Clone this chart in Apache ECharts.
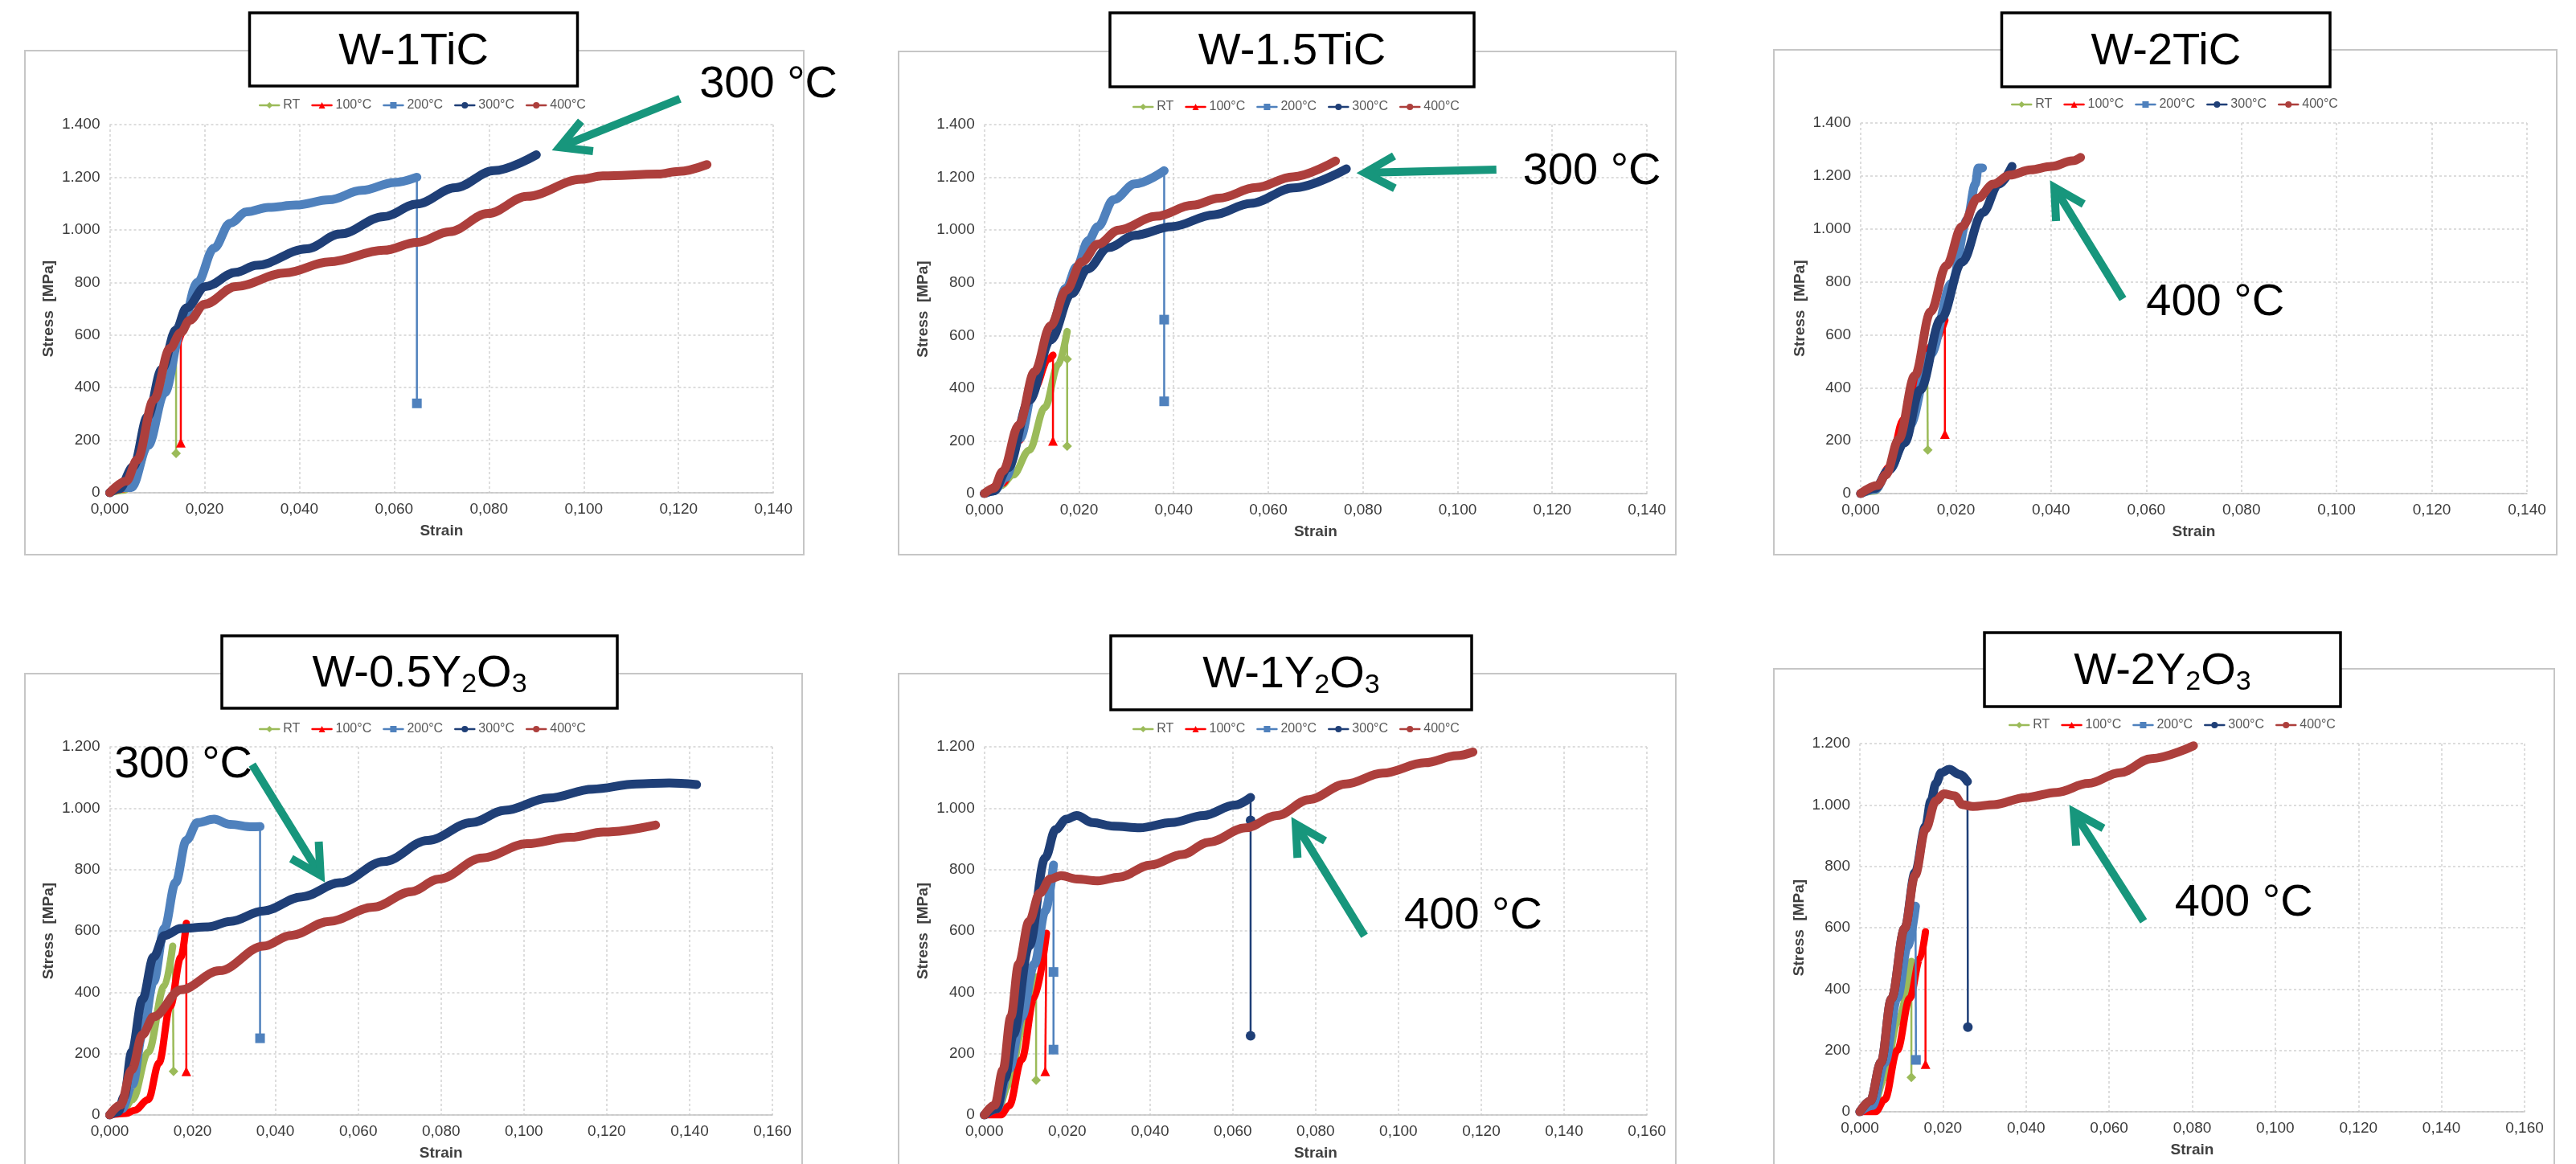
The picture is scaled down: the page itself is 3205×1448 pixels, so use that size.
<!DOCTYPE html>
<html>
<head>
<meta charset="utf-8">
<script src="https://cdn.jsdelivr.net/npm/echarts@6/dist/echarts.min.js"></script>
<style>
html, body { margin: 0; padding: 0; background: #fff; }
#main { width: 3205px; height: 1448px; }
</style>
</head>
<body>
<div id="main"></div>
<script>
// series names, one per test temperature
const temps = ['RT', '100°C', '200°C', '300°C', '400°C'];

// W-1TiC  [strain, stress MPa]
const p1_RT = [[0,0],[0.003,10],[0.006,90],[0.009,280],[0.012,470],[0.014,580]];
const p1_RT_fail = [[0.014,150]];
const p1_100 = [[0,0],[0.003,15],[0.006,110],[0.009,310],[0.012,500],[0.015,600]];
const p1_100_fail = [[0.015,190]];
const p1_200 = [[0,0],[0.002,20],[0.0046,20],[0.0081,180],[0.0116,380],[0.015,610],[0.0185,800],[0.022,930],[0.0254,1025],[0.0289,1068],[0.0335,1085],[0.0393,1094],[0.0463,1114],[0.0532,1150],[0.0601,1180],[0.0648,1200]];
const p1_200_fail = [[0.0648,340]];
const p1_300 = [[0,0],[0.002,15],[0.005,100],[0.008,290],[0.011,470],[0.014,620],[0.0162,703],[0.0202,784],[0.0266,838],[0.031,865],[0.0416,928],[0.0486,984],[0.0578,1050],[0.0648,1098],[0.0729,1160],[0.081,1225],[0.09,1285]];
const p1_300_fail = [];
const p1_400 = [[0,0],[0.0035,44],[0.0058,125],[0.0093,354],[0.0127,549],[0.015,609],[0.0168,655],[0.02,717],[0.0266,784],[0.037,836],[0.0463,878],[0.0578,922],[0.0648,952],[0.0717,993],[0.0798,1062],[0.088,1127],[0.0995,1192],[0.104,1205],[0.1157,1212],[0.12,1222],[0.126,1248]];
const p1_400_fail = [];

// W-1.5TiC
const p2_RT = [[0,0],[0.0035,30],[0.0061,71],[0.0095,165],[0.0128,327],[0.0156,489],[0.0175,615]];
const p2_RT_fail = [[0.0175,510],[0.0175,180]];
const p2_100 = [[0,0],[0.004,40],[0.0073,200],[0.0106,400],[0.0135,510],[0.0145,525]];
const p2_100_fail = [[0.0145,200]];
const p2_200 = [[0,0],[0.002,10],[0.0045,60],[0.0075,210],[0.0108,430],[0.014,630],[0.0173,780],[0.0195,860],[0.022,960],[0.024,1013],[0.0273,1115],[0.0318,1175],[0.038,1225]];
const p2_200_fail = [[0.038,660],[0.038,350]];
const p2_300 = [[0,0],[0.002,10],[0.005,98],[0.0095,354],[0.014,583],[0.0184,758],[0.0218,852],[0.0262,933],[0.0318,980],[0.0396,1013],[0.0485,1058],[0.0563,1101],[0.0653,1160],[0.0765,1232]];
const p2_300_fail = [];
const p2_400 = [[0,0],[0.002,20],[0.0039,85],[0.0073,260],[0.0106,462],[0.014,637],[0.0173,771],[0.0206,879],[0.024,946],[0.0284,1000],[0.0363,1052],[0.044,1094],[0.0496,1121],[0.0574,1161],[0.0652,1202],[0.0742,1262]];
const p2_400_fail = [];

// W-2TiC
const p3_RT = [[0,0],[0.003,10],[0.006,90],[0.009,250],[0.012,400],[0.014,470]];
const p3_RT_fail = [[0.0141,165]];
const p3_100 = [[0,0],[0.003,15],[0.006,100],[0.009,280],[0.012,430],[0.015,560],[0.0177,655]];
const p3_100_fail = [[0.0177,225]];
const p3_200 = [[0,0],[0.003,15],[0.006,90],[0.0103,258],[0.0147,526],[0.0191,794],[0.0224,1035],[0.0241,1169],[0.0247,1230],[0.0256,1230]];
const p3_200_fail = [];
const p3_300 = [[0,0],[0.003,20],[0.006,90],[0.0092,192],[0.0125,392],[0.0169,660],[0.0213,875],[0.0257,1062],[0.029,1169],[0.0318,1236]];
const p3_300_fail = [];
const p3_400 = [[0,0],[0.0036,31],[0.0053,71],[0.008,205],[0.0114,446],[0.0147,687],[0.018,861],[0.0213,1009],[0.0246,1116],[0.0279,1169],[0.0313,1203],[0.0357,1223],[0.0401,1236],[0.0445,1257],[0.0462,1270]];
const p3_400_fail = [];

// W-0.5Y2O3
const p4_RT = [[0,0],[0.003,10],[0.0055,50],[0.0093,205],[0.0132,420],[0.0152,550]];
const p4_RT_fail = [[0.0154,142]];
const p4_100 = [[0,0],[0.004,5],[0.006,15],[0.0093,50],[0.0119,170],[0.0146,354],[0.0172,515],[0.0185,625]];
const p4_100_fail = [[0.0185,142]];
const p4_200 = [[0,0],[0.003,20],[0.0055,100],[0.0079,262],[0.0106,435],[0.0132,608],[0.0159,757],[0.0185,895],[0.0212,953],[0.0252,964],[0.0291,947],[0.0344,939],[0.0363,940]];
const p4_200_fail = [[0.0363,250]];
const p4_300 = [[0,0],[0.002,10],[0.0035,60],[0.0053,205],[0.0079,377],[0.0106,515],[0.0132,585],[0.0172,608],[0.0238,613],[0.0291,631],[0.0371,665],[0.0464,711],[0.0556,757],[0.0662,826],[0.0768,895],[0.0874,953],[0.0954,993],[0.106,1033],[0.1166,1062],[0.1272,1079],[0.1351,1082],[0.1417,1077]];
const p4_300_fail = [];
const p4_400 = [[0,0],[0.0026,32],[0.0053,147],[0.0079,262],[0.0106,320],[0.0172,408],[0.0265,470],[0.0371,550],[0.0437,585],[0.053,631],[0.0636,677],[0.0728,728],[0.0795,769],[0.09,838],[0.1007,884],[0.1113,905],[0.1192,922],[0.1318,945]];
const p4_400_fail = [];

// W-1Y2O3
const p5_RT = [[0,0],[0.003,10],[0.006,100],[0.009,270],[0.0125,450]];
const p5_RT_fail = [[0.0125,113]];
const p5_100 = [[0,0],[0.004,0],[0.006,30],[0.009,180],[0.012,380],[0.015,592]];
const p5_100_fail = [[0.0147,142]];
const p5_200 = [[0,0],[0.003,20],[0.006,150],[0.009,320],[0.0121,492],[0.0147,665],[0.0167,815]];
const p5_200_fail = [[0.0167,466],[0.0167,213]];
const p5_300 = [[0,0],[0.003,20],[0.005,120],[0.007,262],[0.0108,550],[0.0147,838],[0.0172,930],[0.0198,964],[0.0223,976],[0.0261,953],[0.0312,941],[0.0376,936],[0.0452,953],[0.0529,976],[0.0605,1010],[0.0643,1035]];
const p5_300_fail = [[0.0643,960],[0.0643,258]];
const p5_400 = [[0,0],[0.0025,32],[0.0045,147],[0.0064,320],[0.0083,492],[0.0108,631],[0.0134,723],[0.0159,769],[0.0185,780],[0.0223,769],[0.0274,763],[0.0325,775],[0.0402,815],[0.0478,849],[0.0542,889],[0.0631,936],[0.0707,976],[0.0784,1028],[0.0873,1079],[0.0962,1114],[0.1064,1148],[0.1141,1171],[0.118,1183]];
const p5_400_fail = [];

// W-2Y2O3
const p6_RT = [[0,0],[0.003,10],[0.006,110],[0.009,290],[0.0124,490]];
const p6_RT_fail = [[0.0124,112]];
const p6_100 = [[0,0],[0.0038,0],[0.006,40],[0.009,200],[0.012,370],[0.0145,500],[0.0158,587]];
const p6_100_fail = [[0.0158,155]];
const p6_200 = [[0,0],[0.003,20],[0.006,160],[0.009,370],[0.0115,540],[0.0134,670]];
const p6_200_fail = [[0.0135,169]];
const p6_300 = [[0,0],[0.0025,35],[0.0051,161],[0.0076,368],[0.0108,598],[0.0133,780],[0.0158,930],[0.0171,1013],[0.0183,1070],[0.0196,1105],[0.0215,1116],[0.0241,1099],[0.0259,1076]];
const p6_300_fail = [[0.026,276]];
const p6_400 = [[0,0],[0.0025,35],[0.0051,161],[0.0076,368],[0.0108,598],[0.0133,771],[0.0158,921],[0.0183,1013],[0.0202,1036],[0.0228,1030],[0.0247,1001],[0.0272,995],[0.0323,1001],[0.0398,1024],[0.0474,1041],[0.055,1070],[0.0626,1105],[0.0702,1151],[0.0803,1193]];
const p6_400_fail = [];

// axis ranges
const strainMax = [0.14, 0.14, 0.14, 0.16, 0.16, 0.16];
const stressMax = [1400, 1400, 1400, 1200, 1200, 1200];
const strainStep = 0.02;
const stressStep = 200;

// callout labels: text, text anchor, arrow tail, arrow tip (strain, stress)
const notes = [
  { text: '300 °C', at: [0.1244, 1550], tail: [0.1203, 1498], tip: [0.0949, 1314] },
  { text: '300 °C', at: [0.1138, 1222], tail: [0.1082, 1229], tip: [0.0804, 1217] },
  { text: '400 °C', at: [0.0600, 721],  tail: [0.0551, 735],  tip: [0.0407, 1157] },
  { text: '300 °C', at: [0.0011, 1142], tail: [0.0344, 1142], tip: [0.0509, 781] },
  { text: '400 °C', at: [0.1014, 648],  tail: [0.0918, 584],  tip: [0.0752, 948] },
  { text: '400 °C', at: [0.0758, 681],  tail: [0.0683, 621],  tip: [0.0515, 977] }
];

const panelTitles = [
  '{a|W-1TiC}', '{a|W-1.5TiC}', '{a|W-2TiC}',
  '{a|W-0.5Y}{s|2}{a|O}{s|3}', '{a|W-1Y}{s|2}{a|O}{s|3}', '{a|W-2Y}{s|2}{a|O}{s|3}'
];

const curves = [
  [p1_RT, p1_100, p1_200, p1_300, p1_400],
  [p2_RT, p2_100, p2_200, p2_300, p2_400],
  [p3_RT, p3_100, p3_200, p3_300, p3_400],
  [p4_RT, p4_100, p4_200, p4_300, p4_400],
  [p5_RT, p5_100, p5_200, p5_300, p5_400],
  [p6_RT, p6_100, p6_200, p6_300, p6_400]
];
const fails = [
  [p1_RT_fail, p1_100_fail, p1_200_fail, p1_300_fail, p1_400_fail],
  [p2_RT_fail, p2_100_fail, p2_200_fail, p2_300_fail, p2_400_fail],
  [p3_RT_fail, p3_100_fail, p3_200_fail, p3_300_fail, p3_400_fail],
  [p4_RT_fail, p4_100_fail, p4_200_fail, p4_300_fail, p4_400_fail],
  [p5_RT_fail, p5_100_fail, p5_200_fail, p5_300_fail, p5_400_fail],
  [p6_RT_fail, p6_100_fail, p6_200_fail, p6_300_fail, p6_400_fail]
];

// layout (pixels)
const layout = [
  { grid: [136.5, 155, 825.7, 458], frame: [31, 63, 969, 627],  box: [310.5, 16, 408, 91],  legend: [317, 118] },
  { grid: [1224.7, 155, 824.3, 459], frame: [1118, 64, 967, 626], box: [1381, 16, 453, 92], legend: [1404, 120] },
  { grid: [2315, 153, 829, 461],    frame: [2207, 62, 974, 628], box: [2490.5, 16, 408.5, 92], legend: [2497, 117] },
  { grid: [136.5, 929, 824.5, 458], frame: [31, 838, 967, 640],  box: [276, 791, 492, 90],  legend: [317, 894] },
  { grid: [1224.7, 929, 824.3, 458], frame: [1118, 838, 967, 640], box: [1382, 791, 449, 92], legend: [1404, 894] },
  { grid: [2314, 925, 827, 458],    frame: [2207, 832, 971, 646], box: [2469, 787, 443, 92], legend: [2494, 889] }
];

const colors = ['#9bbb59', '#ff0000', '#4f81bd', '#1f3f77', '#ad3f3c'];
const symbols = ['diamond', 'triangle', 'rect', 'circle', 'circle'];
const widths = [9, 9, 11, 11, 11];
const FONT = '"Liberation Sans", Arial, sans-serif';
const TEAL = '#17967c';

const fmtStress = v => v >= 1000 ? Math.floor(v / 1000) + '.' + String(v % 1000).padStart(3, '0') : String(v);
const fmtStrain = v => v.toFixed(3).replace('.', ',');

const grids = [], xAxes = [], yAxes = [], series = [], legends = [];

layout.forEach((L, i) => {
    grids.push({ left: L.grid[0], top: L.grid[1], width: L.grid[2], height: L.grid[3] });
    xAxes.push({
        type: 'value', gridIndex: i, min: 0, max: strainMax[i], interval: strainStep,
        name: 'Strain', nameLocation: 'middle', nameGap: 38,
        nameTextStyle: { fontFamily: FONT, fontSize: 19, fontWeight: 'bold', color: '#404040' },
        axisLine: { show: true, lineStyle: { color: '#c4c4c4', width: 1.5 } },
        axisTick: { show: false },
        axisLabel: { formatter: fmtStrain, fontFamily: FONT, fontSize: 19, color: '#3a3a3a', margin: 11 },
        splitLine: { show: true, lineStyle: { color: '#d2d2d2', type: [3, 3], width: 1.5 } }
    });
    yAxes.push({
        type: 'value', gridIndex: i, min: 0, max: stressMax[i], interval: stressStep,
        name: 'Stress  [MPa]', nameLocation: 'middle', nameGap: 66,
        nameTextStyle: { fontFamily: FONT, fontSize: 19, fontWeight: 'bold', color: '#404040' },
        axisLine: { show: false },
        axisTick: { show: false },
        axisLabel: { formatter: fmtStress, fontFamily: FONT, fontSize: 19, color: '#3a3a3a', margin: 12 },
        splitLine: { show: true, lineStyle: { color: '#d2d2d2', type: [3, 3], width: 1.5 } }
    });
    legends.push({
        left: L.legend[0], top: L.legend[1], data: temps, selectedMode: false,
        itemWidth: 24, itemHeight: 10, itemGap: 14,
        textStyle: { fontFamily: FONT, fontSize: 16, color: '#595959' },
        lineStyle: { width: 2.5 }
    });

    curves[i].forEach((c, k) => {
        series.push({
            type: 'line', name: temps[k], xAxisIndex: i, yAxisIndex: i,
            data: c, symbol: symbols[k], showSymbol: false,
            smooth: 0.35, smoothMonotone: 'x', z: 2 + k, silent: true,
            lineStyle: { color: colors[k], width: widths[k], cap: 'round', join: 'round' },
            itemStyle: { color: colors[k] }
        });
        const f = fails[i][k];
        if (f.length) {
            series.push({
                type: 'line', name: temps[k], xAxisIndex: i, yAxisIndex: i,
                data: [{ value: c[c.length - 1], symbol: 'none' }].concat(f),
                symbol: symbols[k], symbolSize: 12, showSymbol: true, z: 2 + k, silent: true,
                lineStyle: { color: colors[k], width: 2.5 },
                itemStyle: { color: colors[k] }
            });
        }
    });
});

const chart = echarts.init(document.getElementById('main'), null, { renderer: 'canvas' });
chart.setOption({
    animation: false,
    backgroundColor: '#ffffff',
    grid: grids, xAxis: xAxes, yAxis: yAxes, legend: legends, series: series
});

const els = [];
layout.forEach((L, i) => {
    els.push({ type: 'rect', z: -1, shape: { x: L.frame[0], y: L.frame[1], width: L.frame[2], height: L.frame[3] },
        style: { fill: '#ffffff', stroke: '#c6c6c6', lineWidth: 2 } });
    els.push({ type: 'rect', z: 10, shape: { x: L.box[0], y: L.box[1], width: L.box[2], height: L.box[3] },
        style: { fill: '#ffffff', stroke: '#000000', lineWidth: 3.5 } });
    els.push({ type: 'text', z: 11, style: {
        x: L.box[0] + L.box[2] / 2, y: L.box[1] + L.box[3] / 2 + 3,
        text: panelTitles[i], align: 'center', verticalAlign: 'middle',
        rich: {
            a: { fontFamily: FONT, fontSize: 56, lineHeight: 60, fill: '#000' },
            s: { fontFamily: FONT, fontSize: 34, lineHeight: 16, verticalAlign: 'bottom', fill: '#000' }
        }
    } });

    const n = notes[i];
    const at = chart.convertToPixel({ gridIndex: i }, n.at);
    const tail = chart.convertToPixel({ gridIndex: i }, n.tail);
    const tip = chart.convertToPixel({ gridIndex: i }, n.tip);
    els.push({ type: 'text', z: 60, style: {
        x: at[0], y: at[1], text: n.text, align: 'left', verticalAlign: 'middle',
        fontFamily: FONT, fontSize: 56, fill: '#000'
    } });
    const ang = Math.atan2(tail[1] - tip[1], tail[0] - tip[0]);
    const len = 42, spread = 0.5;
    const a1 = [tip[0] + len * Math.cos(ang + spread), tip[1] + len * Math.sin(ang + spread)];
    const a2 = [tip[0] + len * Math.cos(ang - spread), tip[1] + len * Math.sin(ang - spread)];
    const shaftEnd = [tip[0] + 6 * Math.cos(ang), tip[1] + 6 * Math.sin(ang)];
    els.push({ type: 'line', z: 60, shape: { x1: tail[0], y1: tail[1], x2: shaftEnd[0], y2: shaftEnd[1] },
        style: { stroke: TEAL, lineWidth: 10, lineCap: 'butt' } });
    els.push({ type: 'polyline', z: 60, shape: { points: [a1, tip, a2] },
        style: { stroke: TEAL, lineWidth: 10, fill: null, lineJoin: 'miter', lineCap: 'butt' } });
});

chart.setOption({ graphic: { elements: els } });
</script>
</body>
</html>
